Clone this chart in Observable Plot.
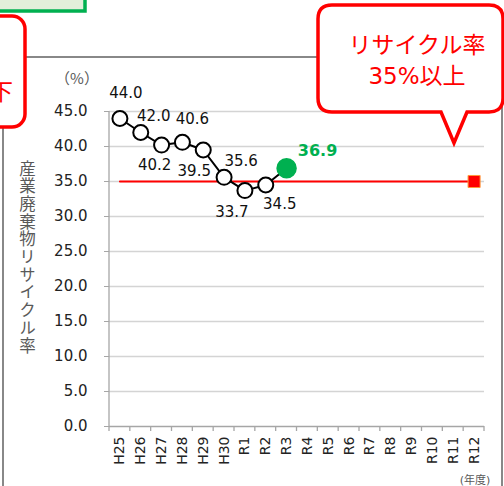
<!DOCTYPE html>
<html><head><meta charset="utf-8">
<script src="https://cdn.jsdelivr.net/npm/d3@7"></script>
<script src="https://cdn.jsdelivr.net/npm/@observablehq/plot@0.6"></script>
<style>
body{margin:0;background:#fff}
svg{display:block}
#chart{position:relative;width:504px;height:486px;overflow:hidden}
#ytitle{position:absolute;left:19px;top:160px;writing-mode:vertical-rl;font-family:'Noto Sans CJK JP',sans-serif;
  font-size:16.5px;line-height:16.5px;letter-spacing:1.2px;color:#595959;white-space:nowrap}
</style>
</head><body><div id="chart"></div>
<script>
// ---- data ----
const years = ["H25","H26","H27","H28","H29","H30","R1","R2","R3","R4","R5","R6","R7","R8","R9","R10","R11","R12"];
const actualYears = ["H25","H26","H27","H28","H29","H30","R1","R2","R3"];
const rates = [44.0, 42.0, 40.2, 40.6, 39.5, 35.6, 33.7, 34.5, 36.9];
const targetValue = 35;
const targetYears = ["H25", "R12"];
const targetMarkerYear = "R12";
const yTicks = [0, 5, 10, 15, 20, 25, 30, 35, 40, 45];
const yTitle = "産業廃棄物リサイクル率";
const unitLabel = "（%）";
const xUnitLabel = "(年度)";
const calloutLines = ["リサイクル率", "35%以上"];
const leftCalloutText = "下";

// ---- layout (label offsets in px) ----
const labelOffsets = [[6,-25],[13,-16],[-7,20],[10,-23],[-9,21],[17,-16],[-13,22],[14,19],[31,-17]];

const FONT = "'DejaVu Sans','Noto Sans CJK JP',sans-serif";
const CJK = "'Noto Sans CJK JP',sans-serif";
const fmt = d3.format(".1f");
const points = actualYears.map((y, i) => ({year: y, rate: rates[i]}));
const past = points.slice(0, points.length - 1);
const latest = points.slice(points.length - 1);
const target = targetYears.map(y => ({year: y, v: targetValue}));

const labelMarks = points.map((p, i) => Plot.text([p], {
  x: "year", y: "rate", text: d => fmt(d.rate),
  dx: labelOffsets[i][0], dy: labelOffsets[i][1],
  fontSize: i === points.length - 1 ? 16 : 15,
  fontWeight: i === points.length - 1 ? "bold" : "normal",
  fill: i === points.length - 1 ? "#00B050" : "#111"
}));

const chart = Plot.plot({
  width: 504, height: 486,
  marginLeft: 109, marginRight: 20, marginTop: 111, marginBottom: 60,
  style: {fontFamily: FONT, background: "transparent", overflow: "visible"},
  x: {type: "band", domain: years, padding: 0, round: false},
  y: {domain: [0, 45]},
  marks: [
    Plot.gridY(yTicks.filter(d => d > 0), {stroke: "#d4d4d4", strokeOpacity: 1, strokeWidth: 1.5}),
    Plot.ruleY([0], {stroke: "#a6a6a6", strokeWidth: 1.3}),
    Plot.axisY(yTicks, {tickFormat: fmt, tickSize: 5, tickPadding: 17, fontSize: 15, fill: "#222", stroke: "#a6a6a6", label: null}),
    Plot.axisX({tickRotate: -90, tickSize: 0, tickPadding: 10, fontSize: 14, fill: "#222", label: null}),
    Plot.line(target, {x: "year", y: "v", stroke: "#ff0000", strokeWidth: 2}),
    Plot.dot(target.filter(d => d.year === targetMarkerYear), {x: "year", y: "v", symbol: "square", r: 6.8, fill: "#ff0000", stroke: "#ff9a3c", strokeWidth: 1}),
    Plot.line(points, {x: "year", y: "rate", stroke: "#000", strokeWidth: 2}),
    Plot.dot(past, {x: "year", y: "rate", r: 7.5, fill: "#fff", stroke: "#000", strokeWidth: 2}),
    Plot.dot(latest, {x: "year", y: "rate", r: 9.5, fill: "#00B050", stroke: "#00B050"}),
    ...labelMarks
  ]
});

const container = document.getElementById("chart");
container.appendChild(chart);
const yDiv = document.createElement("div");
yDiv.id = "ytitle";
yDiv.textContent = yTitle;
container.appendChild(yDiv);

const svg = d3.select(chart);
const xs = chart.scale("x"), ys = chart.scale("y");
const x0 = xs.range[0], x1 = xs.range[1];
const yTop = ys.apply(45), yBot = ys.apply(0);
const bw = (x1 - x0) / years.length;

// y axis line and category boundary ticks
const deco = svg.append("g");
deco.append("line").attr("x1", x0).attr("x2", x0).attr("y1", yTop).attr("y2", yBot)
  .attr("stroke", "#a6a6a6").attr("stroke-width", 1.3);
deco.selectAll("line.bt").data(d3.range(years.length + 1)).join("line")
  .attr("x1", i => x0 + i * bw).attr("x2", i => x0 + i * bw)
  .attr("y1", yBot).attr("y2", yBot + 5).attr("stroke", "#a6a6a6").attr("stroke-width", 1.3);

// outer frame
const over = svg.append("g");
over.append("rect").attr("x", 3).attr("y", 57).attr("width", 499).attr("height", 460)
  .attr("fill", "none").attr("stroke", "#888").attr("stroke-width", 2);

over.append("text").attr("x", 77).attr("y", 84).attr("text-anchor", "middle").text(unitLabel)
  .attr("font-size", 15).attr("fill", "#595959").attr("font-family", CJK);
over.append("text").attr("x", 475).attr("y", 484).attr("text-anchor", "middle").text(xUnitLabel)
  .attr("font-size", 11).attr("fill", "#595959").attr("font-family", FONT);

// green box (top-left, cropped)
over.append("rect").attr("x", -60).attr("y", -30).attr("width", 145).attr("height", 41)
  .attr("fill", "#E2EFDA").attr("stroke", "#00B050").attr("stroke-width", 3.5);

// left callout (cropped)
over.append("rect").attr("x", -120).attr("y", 16).attr("width", 145).attr("height", 111).attr("rx", 13)
  .attr("fill", "#fff").attr("stroke", "#ff0000").attr("stroke-width", 3.5);
over.append("text").attr("x", 13).attr("y", 100).attr("text-anchor", "end").text(leftCalloutText)
  .attr("font-size", 23).attr("fill", "#ff0000").attr("font-family", FONT);

// right callout with tail
const L = 318, R = 503, T = 5, B = 112, rr = 14;
const tipX = 454, tipY = 143, tl = 441, tr = 467;
const p = `M${L + rr},${T} H${R - rr} Q${R},${T} ${R},${T + rr} V${B - rr} Q${R},${B} ${R - rr},${B}
  H${tr} L${tipX},${tipY} L${tl},${B} H${L + rr} Q${L},${B} ${L},${B - rr} V${T + rr} Q${L},${T} ${L + rr},${T} Z`;
over.append("path").attr("d", p).attr("fill", "#fff").attr("stroke", "#ff0000")
  .attr("stroke-width", 3.5).attr("stroke-linejoin", "miter");
calloutLines.forEach((t, i) => {
  over.append("text").attr("x", 417).attr("y", 53 + i * 31).attr("text-anchor", "middle").text(t)
    .attr("font-size", 23).attr("fill", "#ff0000").attr("font-family", FONT);
});
</script>
</body></html>
